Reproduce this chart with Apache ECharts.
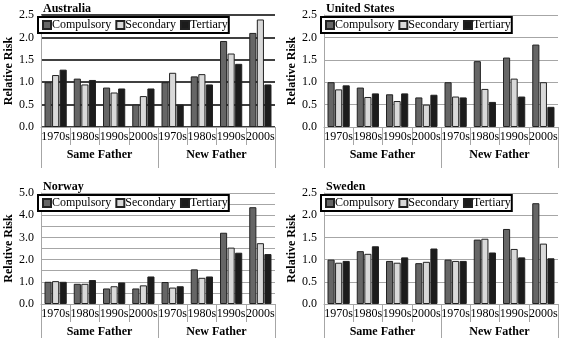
<!DOCTYPE html>
<html>
<head>
<meta charset="utf-8">
<script src="https://cdn.jsdelivr.net/npm/echarts@6/dist/echarts.min.js"></script>
<style>
  html, body { margin: 0; padding: 0; background: #fff; }
  #chart { width: 561px; height: 338px; }
</style>
</head>
<body>
<div id="chart"></div>
<script>
  const decades = ['1970s', '1980s', '1990s', '2000s', '1970s', '1980s', '1990s', '2000s'];
  const groups = ['Same Father', 'New Father'];
  const levels = ['Compulsory', 'Secondary', 'Tertiary'];

  const ausCompulsory = [1.00, 1.08, 0.88, 0.50, 1.00, 1.13, 1.92, 2.10];
  const ausSecondary  = [1.16, 0.95, 0.77, 0.69, 1.21, 1.18, 1.64, 2.40];
  const ausTertiary   = [1.28, 1.05, 0.86, 0.86, 0.50, 0.95, 1.41, 0.95];

  const usCompulsory = [1.00, 0.88, 0.73, 0.66, 1.00, 1.47, 1.55, 1.84];
  const usSecondary  = [0.84, 0.67, 0.58, 0.50, 0.68, 0.85, 1.08, 1.00];
  const usTertiary   = [0.93, 0.75, 0.75, 0.72, 0.66, 0.56, 0.68, 0.45];

  const norCompulsory = [1.00, 0.91, 0.70, 0.70, 0.99, 1.56, 3.21, 4.36];
  const norSecondary  = [1.03, 0.91, 0.80, 0.84, 0.74, 1.18, 2.54, 2.74];
  const norTertiary   = [1.00, 1.08, 0.97, 1.24, 0.80, 1.24, 2.31, 2.25];

  const sweCompulsory = [1.00, 1.19, 0.97, 0.92, 1.00, 1.45, 1.69, 2.27];
  const sweSecondary  = [0.93, 1.13, 0.93, 0.95, 0.97, 1.47, 1.24, 1.36];
  const sweTertiary   = [0.97, 1.30, 1.05, 1.25, 0.97, 1.16, 1.05, 1.03];

  const panels = [
    { name: 'Australia', data: [ausCompulsory, ausSecondary, ausTertiary], left: 41, top: 15, max: 2.5, step: 0.5, grid: '#000', gw: 1.6 },
    { name: 'United States', data: [usCompulsory, usSecondary, usTertiary], left: 324, top: 15, max: 2.5, step: 0.5, grid: '#a6a6a6', gw: 1 },
    { name: 'Norway', data: [norCompulsory, norSecondary, norTertiary], left: 41, top: 193, max: 5, step: 1, grid: '#a6a6a6', gw: 1, minor: true },
    { name: 'Sweden', data: [sweCompulsory, sweSecondary, sweTertiary], left: 324, top: 193, max: 2.5, step: 0.5, grid: '#a6a6a6', gw: 1 }
  ];

  const colors = ['#666666', '#d9d9d9', '#1c1c1c'];
  const font = '"Liberation Serif", "Times New Roman", serif';
  const W = 234, H = 112;
  // legend text boxes, so the box hugs the serif labels
  const legendTextW = [64, 56, 35];

  const option = { animation: false, title: [], legend: [], grid: [], xAxis: [], yAxis: [], series: [] };

  panels.forEach((p, i) => {
    option.title.push({
      text: p.name, left: p.left - 3, top: p.top - 17,
      textStyle: { fontFamily: font, fontSize: 12, fontWeight: 'bold', color: '#000' }
    });
    option.legend.push({
      data: levels.map((lv, k) => ({ name: lv, icon: 'rect', textStyle: { width: legendTextW[k] } })),
      left: p.left - 3, top: p.top + 2,
      itemWidth: 8, itemHeight: 8, itemGap: 4,
      padding: [2, 1, 2, 4], borderColor: '#000', borderWidth: 2, backgroundColor: '#fff',
      textStyle: { fontFamily: font, fontSize: 12, color: '#000', overflow: 'none', padding: [0, 0, 0, -4] }
    });
    option.grid.push({ left: p.left, top: p.top, width: W, height: H });
    option.xAxis.push({
      type: 'category', gridIndex: i, data: decades, position: 'bottom',
      axisLine: { show: true, lineStyle: { color: '#a6a6a6' } },
      axisTick: { show: true, length: 18, interval: 0, lineStyle: { color: '#a6a6a6' } },
      axisLabel: { interval: 0, margin: 4, fontFamily: font, fontSize: 12, color: '#000' }
    });
    option.xAxis.push({
      type: 'category', gridIndex: i, data: groups, position: 'bottom',
      axisLine: { show: false },
      axisTick: { show: true, length: 41, lineStyle: { color: '#a6a6a6' } },
      axisLabel: { margin: 22, fontFamily: font, fontSize: 12, fontWeight: 'bold', color: '#000' }
    });
    option.yAxis.push({
      type: 'value', gridIndex: i, min: 0, max: p.max, interval: p.step,
      name: 'Relative Risk', nameLocation: 'middle', nameGap: 25,
      nameTextStyle: { fontFamily: font, fontSize: 12, fontWeight: 'bold', color: '#000' },
      axisLine: { show: true, lineStyle: { color: '#a6a6a6' } },
      axisTick: { show: false },
      axisLabel: { margin: 7, fontFamily: font, fontSize: 12, color: '#000', formatter: v => v.toFixed(1) },
      splitLine: { lineStyle: { color: p.grid, width: p.gw } },
      minorTick: { show: false, splitNumber: 2 },
      minorSplitLine: { show: !!p.minor, lineStyle: { color: '#a6a6a6' } }
    });
    levels.forEach((lv, k) => {
      option.series.push({
        type: 'bar', name: lv, xAxisIndex: i * 2, yAxisIndex: i,
        data: p.data[k],
        barGap: '6%', barCategoryGap: '24%',
        itemStyle: { color: colors[k], borderColor: '#222', borderWidth: 1 }
      });
    });
  });

  const chart = echarts.init(document.getElementById('chart'), null, { renderer: 'canvas' });
  chart.setOption(option);
</script>
</body>
</html>
